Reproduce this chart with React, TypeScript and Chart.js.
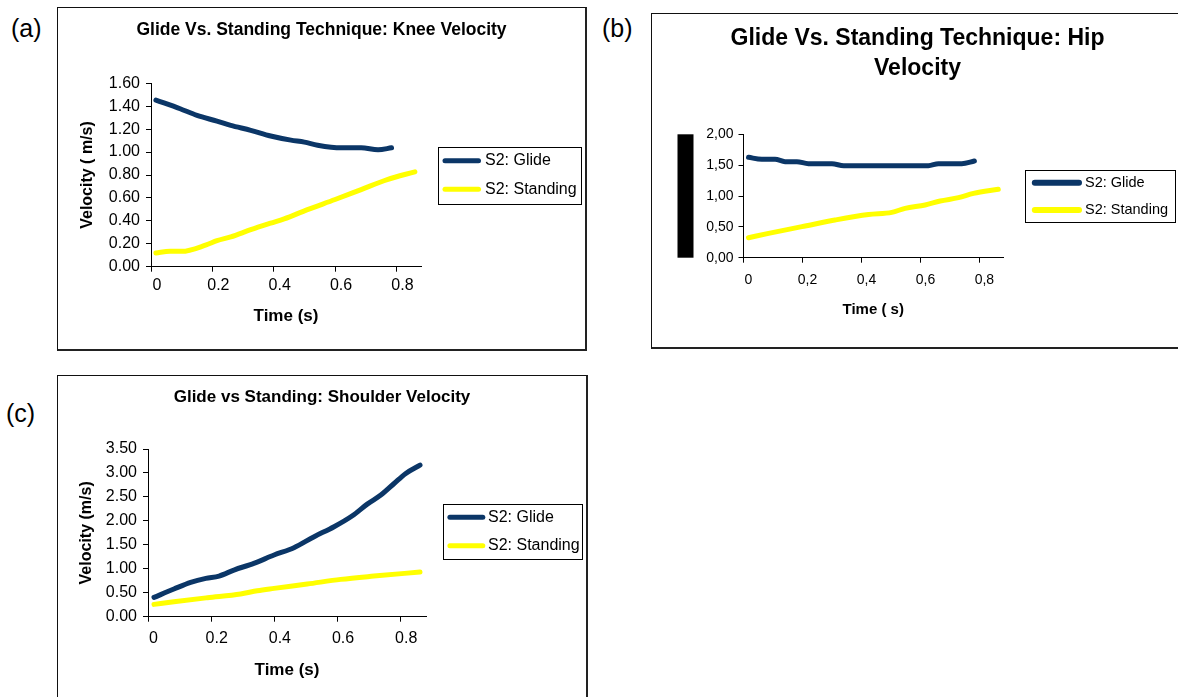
import React, { useEffect, useRef } from 'react';
import { Chart, registerables } from 'chart.js';

Chart.register(...registerables);

const FONT = "'Liberation Sans', Arial, Helvetica, sans-serif";
const NAVY = '#0b3667';
const YELLOW = '#ffff00';

const SERIES_LABELS = ['S2: Glide', 'S2: Standing'];
const X_TITLE_A = 'Time (s)';
const X_TITLE_B = 'Time ( s)';
const Y_TITLE_A = 'Velocity ( m/s)';
const Y_TITLE_C = 'Velocity (m/s)';
const TITLE_A = ['Glide Vs. Standing Technique: Knee Velocity'];
const TITLE_B = ['Glide Vs. Standing Technique: Hip', 'Velocity'];
const TITLE_C = ['Glide vs Standing: Shoulder Velocity'];

const X_TICKS = [0, 0.2, 0.4, 0.6, 0.8];
const X_LABELS_DOT = ['0', '0.2', '0.4', '0.6', '0.8'];
const X_LABELS_COMMA = ['0', '0,2', '0,4', '0,6', '0,8'];
const X_MAX = 0.88;

const KNEE_Y_TICKS = [0, 0.2, 0.4, 0.6, 0.8, 1.0, 1.2, 1.4, 1.6];
const KNEE_Y_LABELS = ['0.00', '0.20', '0.40', '0.60', '0.80', '1.00', '1.20', '1.40', '1.60'];
const HIP_Y_TICKS = [0, 0.5, 1.0, 1.5, 2.0];
const HIP_Y_LABELS = ['0,00', '0,50', '1,00', '1,50', '2,00'];
const SHOULDER_Y_TICKS = [0, 0.5, 1.0, 1.5, 2.0, 2.5, 3.0, 3.5];
const SHOULDER_Y_LABELS = ['0.00', '0.50', '1.00', '1.50', '2.00', '2.50', '3.00', '3.50'];

// (a) Knee
const KNEE_GLIDE_T = [0.016, 0.095, 0.15, 0.215, 0.26, 0.325, 0.39, 0.456, 0.5, 0.543, 0.62, 0.685, 0.74, 0.784];
const KNEE_GLIDE_V = [1.454, 1.378, 1.32, 1.27, 1.233, 1.19, 1.14, 1.104, 1.087, 1.06, 1.037, 1.037, 1.02, 1.037];
const KNEE_STAND_T = [0.016, 0.062, 0.1, 0.18, 0.215, 0.26, 0.325, 0.39, 0.434, 0.51, 0.6, 0.685, 0.77, 0.86];
const KNEE_STAND_V = [0.12, 0.134, 0.134, 0.19, 0.227, 0.26, 0.323, 0.38, 0.417, 0.498, 0.586, 0.673, 0.76, 0.828];

// (b) Hip
const HIP_GLIDE_T = [0.017, 0.062, 0.107, 0.141, 0.181, 0.22, 0.3, 0.34, 0.424, 0.537, 0.627, 0.661, 0.74, 0.783];
const HIP_GLIDE_V = [1.627, 1.595, 1.595, 1.557, 1.557, 1.524, 1.524, 1.49, 1.49, 1.49, 1.49, 1.524, 1.524, 1.567];
const HIP_STAND_T = [0.017, 0.085, 0.198, 0.31, 0.424, 0.503, 0.548, 0.616, 0.667, 0.729, 0.78, 0.864];
const HIP_STAND_V = [0.324, 0.395, 0.503, 0.61, 0.7, 0.735, 0.8, 0.854, 0.919, 0.973, 1.043, 1.108];

// (c) Shoulder
const SH_GLIDE_T = [0.019, 0.082, 0.135, 0.183, 0.225, 0.272, 0.335, 0.399, 0.462, 0.526, 0.589, 0.647, 0.694, 0.737, 0.779, 0.816, 0.861];
const SH_GLIDE_V = [0.403, 0.577, 0.716, 0.8, 0.848, 0.974, 1.113, 1.287, 1.44, 1.67, 1.878, 2.107, 2.35, 2.538, 2.78, 2.99, 3.164];
const SH_STAND_T = [0.019, 0.082, 0.188, 0.293, 0.346, 0.399, 0.504, 0.61, 0.715, 0.861];
const SH_STAND_V = [0.257, 0.313, 0.396, 0.473, 0.542, 0.591, 0.681, 0.779, 0.848, 0.932];

const zip = (t: number[], v: number[]) => t.map((x, i) => ({ x, y: v[i] }));

// Draws the centred chart title, the boxed legend and (panel b) the black bar.
const panelDecor = {
  id: 'panelDecor',
  afterDraw(chart: any, _args: any, opts: any) {
    if (!opts) return;
    const ctx = chart.ctx;
    ctx.save();
    // title, centred on the whole canvas (the frame)
    if (opts.title) {
      ctx.fillStyle = '#000';
      ctx.textAlign = 'center';
      ctx.textBaseline = 'middle';
      ctx.font = `bold ${opts.titleSize}px ${FONT}`;
      opts.title.forEach((line: string, i: number) => {
        ctx.fillText(line, chart.width / 2 + (opts.titleShift || 0), opts.titleCenters[i]);
      });
    }
    if (opts.blackBar) {
      const [x0, x1] = opts.blackBar;
      const { top, bottom } = chart.chartArea;
      ctx.fillStyle = '#000';
      ctx.fillRect(x0, top, x1 - x0, bottom - top);
    }
    const [l, t, r, b] = opts.box;
    ctx.strokeStyle = '#000';
    ctx.lineWidth = 1;
    ctx.strokeRect(Math.round(l) + 0.5, Math.round(t) + 0.5, Math.round(r - l), Math.round(b - t));
    ctx.font = `${opts.fontSize}px ${FONT}`;
    ctx.textBaseline = 'middle';
    ctx.textAlign = 'left';
    chart.data.datasets.forEach((ds: any, i: number) => {
      const y = opts.rows[i];
      const lw = opts.lineWidth;
      ctx.strokeStyle = ds.borderColor;
      ctx.lineWidth = lw;
      ctx.lineCap = 'round';
      ctx.beginPath();
      ctx.moveTo(opts.sample[0] + lw / 2, y);
      ctx.lineTo(opts.sample[1] - lw / 2, y);
      ctx.stroke();
      ctx.fillStyle = '#000';
      ctx.fillText(ds.label, opts.textX, y);
    });
    ctx.restore();
  },
};

type PanelSpec = {
  W: number;
  H: number;
  area: { left: number; right: number; top: number; bottom: number };
  title: string[];
  titleSize: number;
  titleCenters: number[];
  titleShift: number;
  glide: { x: number; y: number }[];
  standing: { x: number; y: number }[];
  yTicks: number[];
  yLabels: string[];
  yMax: number;
  xLabels: string[];
  tickSize: number;
  xTickCenter: number;
  labelOffset: number;
  yTickPad: number;
  yTitle: string | null;
  yTitleSize: number;
  yTitleCenter: number;
  xTitle: string;
  xTitleSize: number;
  xTitleCenter: number;
  legend: any;
};

function makeConfig(p: PanelSpec): any {
  const tickLH = p.tickSize * 1.2;
  const xTickPad = p.xTickCenter - p.area.bottom - 5 - tickLH / 2;
  const xTitleLH = p.xTitleSize * 1.2;
  const xTitlePadBottom = p.H - p.xTitleCenter - xTitleLH / 2;
  const yTitleLH = p.yTitleSize * 1.2;
  const yTitlePadTop = p.yTitleCenter - yTitleLH / 2;
  const tickFont = { family: FONT, size: p.tickSize };

  const lineDs = (label: string, data: any, color: string) => ({
    label,
    data,
    borderColor: color,
    backgroundColor: color,
    borderWidth: 5,
    pointRadius: 0,
    cubicInterpolationMode: 'monotone',
    borderCapStyle: 'round',
    borderJoinStyle: 'round',
    fill: false,
  });

  return {
    type: 'line',
    data: {
      datasets: [lineDs(SERIES_LABELS[0], p.glide, NAVY), lineDs(SERIES_LABELS[1], p.standing, YELLOW)],
    },
    options: {
      responsive: false,
      animation: false,
      events: [],
      layout: { padding: { left: 0, top: p.area.top, right: p.W - p.area.right, bottom: 0 } },
      plugins: {
        legend: { display: false },
        tooltip: { enabled: false },
        title: { display: false },
        panelDecor: {
          ...p.legend,
          title: p.title,
          titleSize: p.titleSize,
          titleCenters: p.titleCenters,
          titleShift: p.titleShift,
        },
      },
      scales: {
        x: {
          type: 'linear',
          min: 0,
          max: X_MAX,
          afterBuildTicks: (s: any) => {
            s.ticks = X_TICKS.map((v) => ({ value: v }));
          },
          afterFit: (s: any) => {
            s.height = p.H - p.area.bottom;
          },
          ticks: {
            callback: (_v: any, i: number) => p.xLabels[i],
            font: tickFont,
            color: '#000',
            padding: xTickPad,
            labelOffset: p.labelOffset,
            maxRotation: 0,
            autoSkip: false,
          },
          grid: { display: true, drawOnChartArea: false, drawTicks: true, tickLength: 5, color: '#000' },
          border: { display: true, color: '#000', width: 1 },
          title: {
            display: true,
            text: p.xTitle,
            color: '#000',
            font: { family: FONT, size: p.xTitleSize, weight: 'bold' },
            padding: { top: 0, bottom: xTitlePadBottom },
          },
        },
        y: {
          type: 'linear',
          min: 0,
          max: p.yMax,
          afterBuildTicks: (s: any) => {
            s.ticks = p.yTicks.map((v) => ({ value: v }));
          },
          afterFit: (s: any) => {
            s.width = p.area.left;
          },
          ticks: {
            callback: (_v: any, i: number) => p.yLabels[i],
            font: tickFont,
            color: '#000',
            padding: p.yTickPad,
            autoSkip: false,
          },
          grid: { display: true, drawOnChartArea: false, drawTicks: true, tickLength: 5, color: '#000' },
          border: { display: true, color: '#000', width: 1 },
          title: {
            display: !!p.yTitle,
            text: p.yTitle || '',
            color: '#000',
            font: { family: FONT, size: p.yTitleSize, weight: 'bold' },
            padding: { top: yTitlePadTop, bottom: 0 },
          },
        },
      },
    },
    plugins: [panelDecor],
  };
}

const PANEL_A: PanelSpec = {
  W: 529,
  H: 342,
  area: { left: 94, right: 364, top: 76.3, bottom: 259.7 },
  title: TITLE_A,
  titleSize: 17.5,
  titleCenters: [23],
  titleShift: 0,
  glide: zip(KNEE_GLIDE_T, KNEE_GLIDE_V),
  standing: zip(KNEE_STAND_T, KNEE_STAND_V),
  yTicks: KNEE_Y_TICKS,
  yLabels: KNEE_Y_LABELS,
  yMax: 1.6,
  xLabels: X_LABELS_DOT,
  tickSize: 16,
  xTickCenter: 279,
  labelOffset: 6,
  yTickPad: 6,
  yTitle: Y_TITLE_A,
  yTitleSize: 16,
  yTitleCenter: 30.7,
  xTitle: X_TITLE_A,
  xTitleSize: 17,
  xTitleCenter: 309.7,
  legend: {
    box: [380.6, 139.7, 523.6, 197],
    sample: [385.5, 424],
    textX: 428,
    rows: [153.7, 182.3],
    fontSize: 16,
    lineWidth: 5,
  },
};

const PANEL_B: PanelSpec = {
  W: 527,
  H: 335,
  area: { left: 92.5, right: 352, top: 121.3, bottom: 244.7 },
  title: TITLE_B,
  titleSize: 23,
  titleCenters: [26, 55.3],
  titleShift: 3,
  glide: zip(HIP_GLIDE_T, HIP_GLIDE_V),
  standing: zip(HIP_STAND_T, HIP_STAND_V),
  yTicks: HIP_Y_TICKS,
  yLabels: HIP_Y_LABELS,
  yMax: 2.0,
  xLabels: X_LABELS_COMMA,
  tickSize: 14,
  xTickCenter: 267,
  labelOffset: 5,
  yTickPad: 5,
  yTitle: null,
  yTitleSize: 14,
  yTitleCenter: 30,
  xTitle: X_TITLE_B,
  xTitleSize: 15,
  xTitleCenter: 297,
  legend: {
    box: [374, 157, 524, 208.7],
    sample: [380.8, 431],
    textX: 434,
    rows: [169.7, 197],
    fontSize: 14.5,
    lineWidth: 6,
    blackBar: [26.5, 42.5],
  },
};

const PANEL_C: PanelSpec = {
  W: 530,
  H: 322,
  area: { left: 91, right: 369, top: 74, bottom: 241.7 },
  title: TITLE_C,
  titleSize: 17,
  titleCenters: [22.3],
  titleShift: 0,
  glide: zip(SH_GLIDE_T, SH_GLIDE_V),
  standing: zip(SH_STAND_T, SH_STAND_V),
  yTicks: SHOULDER_Y_TICKS,
  yLabels: SHOULDER_Y_LABELS,
  yMax: 3.5,
  xLabels: X_LABELS_DOT,
  tickSize: 16,
  xTickCenter: 263.3,
  labelOffset: 5.5,
  yTickPad: 6,
  yTitle: Y_TITLE_C,
  yTitleSize: 16,
  yTitleCenter: 30,
  xTitle: X_TITLE_A,
  xTitleSize: 17,
  xTitleCenter: 295,
  legend: {
    box: [385.5, 129.3, 524.3, 184.3],
    sample: [390.4, 428.3],
    textX: 431,
    rows: [142.3, 170.7],
    fontSize: 16,
    lineWidth: 5,
  },
};

function ChartPanel({ spec, left, top }: { spec: PanelSpec; left: number; top: number }) {
  const ref = useRef<HTMLCanvasElement | null>(null);
  useEffect(() => {
    if (!ref.current) return;
    const chart = new Chart(ref.current, makeConfig(spec));
    return () => chart.destroy();
  }, [spec]);
  return (
    <canvas
      ref={ref}
      width={spec.W}
      height={spec.H}
      style={{ position: 'absolute', left, top, width: spec.W, height: spec.H }}
    />
  );
}

const frameStyle = (left: number, top: number, width: number, height: number): React.CSSProperties => ({
  position: 'absolute',
  left,
  top,
  width,
  height,
  boxSizing: 'border-box',
  borderTop: '1px solid #111',
  borderLeft: '1px solid #111',
  borderRight: '2px solid #222',
  borderBottom: '2px solid #222',
});

const labelStyle = (left: number, top: number): React.CSSProperties => ({
  position: 'absolute',
  left,
  top,
  fontFamily: FONT,
  fontSize: 25,
  lineHeight: '25px',
  color: '#000',
});

export default function App() {
  return (
    <div
      style={{
        position: 'fixed',
        left: 0,
        top: 0,
        width: 1178,
        height: 697,
        overflow: 'hidden',
        background: '#fff',
      }}
    >
      <div style={frameStyle(57, 7, 530, 344)} />
      <div style={frameStyle(651, 13, 600, 336)} />
      <div style={frameStyle(57, 375, 531, 400)} />
      <div style={labelStyle(11, 16)}>(a)</div>
      <div style={labelStyle(602, 16)}>(b)</div>
      <div style={labelStyle(6, 401)}>(c)</div>
      <ChartPanel spec={PANEL_A} left={57} top={7} />
      <ChartPanel spec={PANEL_B} left={651} top={13} />
      <ChartPanel spec={PANEL_C} left={57} top={375} />
    </div>
  );
}
